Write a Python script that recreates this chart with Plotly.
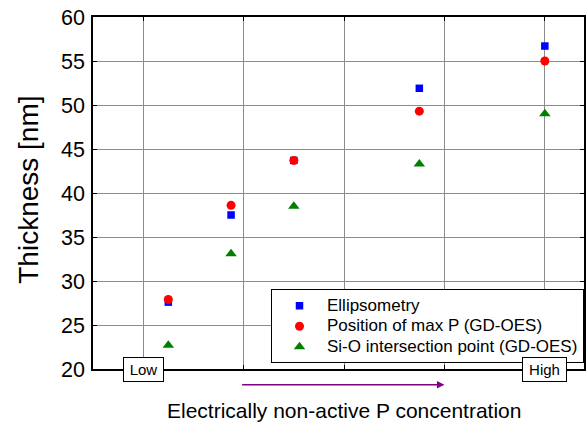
import plotly.graph_objects as go

x_pos = [1.25, 1.875, 2.5, 3.75, 5.0]
ellipsometry = [27.6, 37.5, 43.7, 51.9, 56.7]
max_p = [27.9, 38.6, 43.7, 49.3, 55.0]
si_o = [22.7, 33.1, 38.5, 43.3, 49.0]
x_labels = {1: "Low", 5: "High"}
series_names = ["Ellipsometry", "Position of max P (GD-OES)", "Si-O intersection point (GD-OES)"]

FONT = "Liberation Sans, Arial, sans-serif"


def leg(name):
    return f"<span style='font-size:17px'>{name}</span>"


fig = go.Figure()
fig.add_trace(go.Scatter(x=x_pos, y=ellipsometry, mode="markers", name=leg(series_names[0]),
                         marker=dict(symbol="square", size=7.5, color="#0000ff")))
fig.add_trace(go.Scatter(x=x_pos, y=max_p, mode="markers", name=leg(series_names[1]),
                         marker=dict(symbol="circle", size=9, color="#ff0000")))
fig.add_trace(go.Scatter(x=x_pos, y=si_o, mode="markers", name=leg(series_names[2]),
                         marker=dict(symbol="triangle-up", size=10, color="#008000")))

fig.update_layout(
    width=587, height=423,
    margin=dict(l=93, r=1, t=17, b=54),
    paper_bgcolor="white", plot_bgcolor="white",
    font=dict(family=FONT, color="black"),
    showlegend=True,
    legend=dict(x=1, xanchor="right", y=0.016, yanchor="bottom",
                bordercolor="black", borderwidth=1, bgcolor="white",
                font=dict(size=13.5, family=FONT), tracegroupgap=0, itemwidth=45),
)
fig.update_xaxes(range=[0.5, 5.39], tick0=1, dtick=1, showticklabels=False,
                 showgrid=True, gridcolor="#8c8c8c", gridwidth=1,
                 showline=True, linecolor="black", linewidth=1.5, mirror="ticks",
                 ticks="inside", ticklen=4, tickcolor="black", zeroline=False)
fig.update_yaxes(range=[20, 60], dtick=5, tickfont=dict(size=21.5),
                 showgrid=True, gridcolor="#8c8c8c", gridwidth=1,
                 showline=True, linecolor="black", linewidth=1.5, mirror="ticks",
                 ticks="inside", ticklen=4, tickcolor="black", zeroline=False,
                 ticklabelstandoff=2)

fig.add_annotation(x=(28 - 93) / 493, xref="paper", xanchor="center",
                   y=0.51, yref="paper", yanchor="middle", text="Thickness [nm]",
                   textangle=-90, showarrow=False, font=dict(size=28))

for xv, lab in x_labels.items():
    fig.add_annotation(x=xv, xref="x", y=-0.038, yref="paper", text=lab, showarrow=False,
                       font=dict(size=15), bordercolor="black", borderwidth=1, borderpad=0,
                       width=39 if lab == "Low" else 43, height=23, bgcolor="white")
fig.add_annotation(x=4.0, xref="x", y=-0.045, yref="paper", ax=1.97, axref="x",
                   ay=0, ayref="pixel", text="", showarrow=True, arrowhead=2,
                   arrowsize=1, arrowwidth=1.5, arrowcolor="#800080")
fig.add_annotation(x=0.511, xref="paper", y=-0.1165, yref="paper", yanchor="middle",
                   text="Electrically non-active P concentration", showarrow=False,
                   font=dict(size=21))

fig.write_html("out.html")
